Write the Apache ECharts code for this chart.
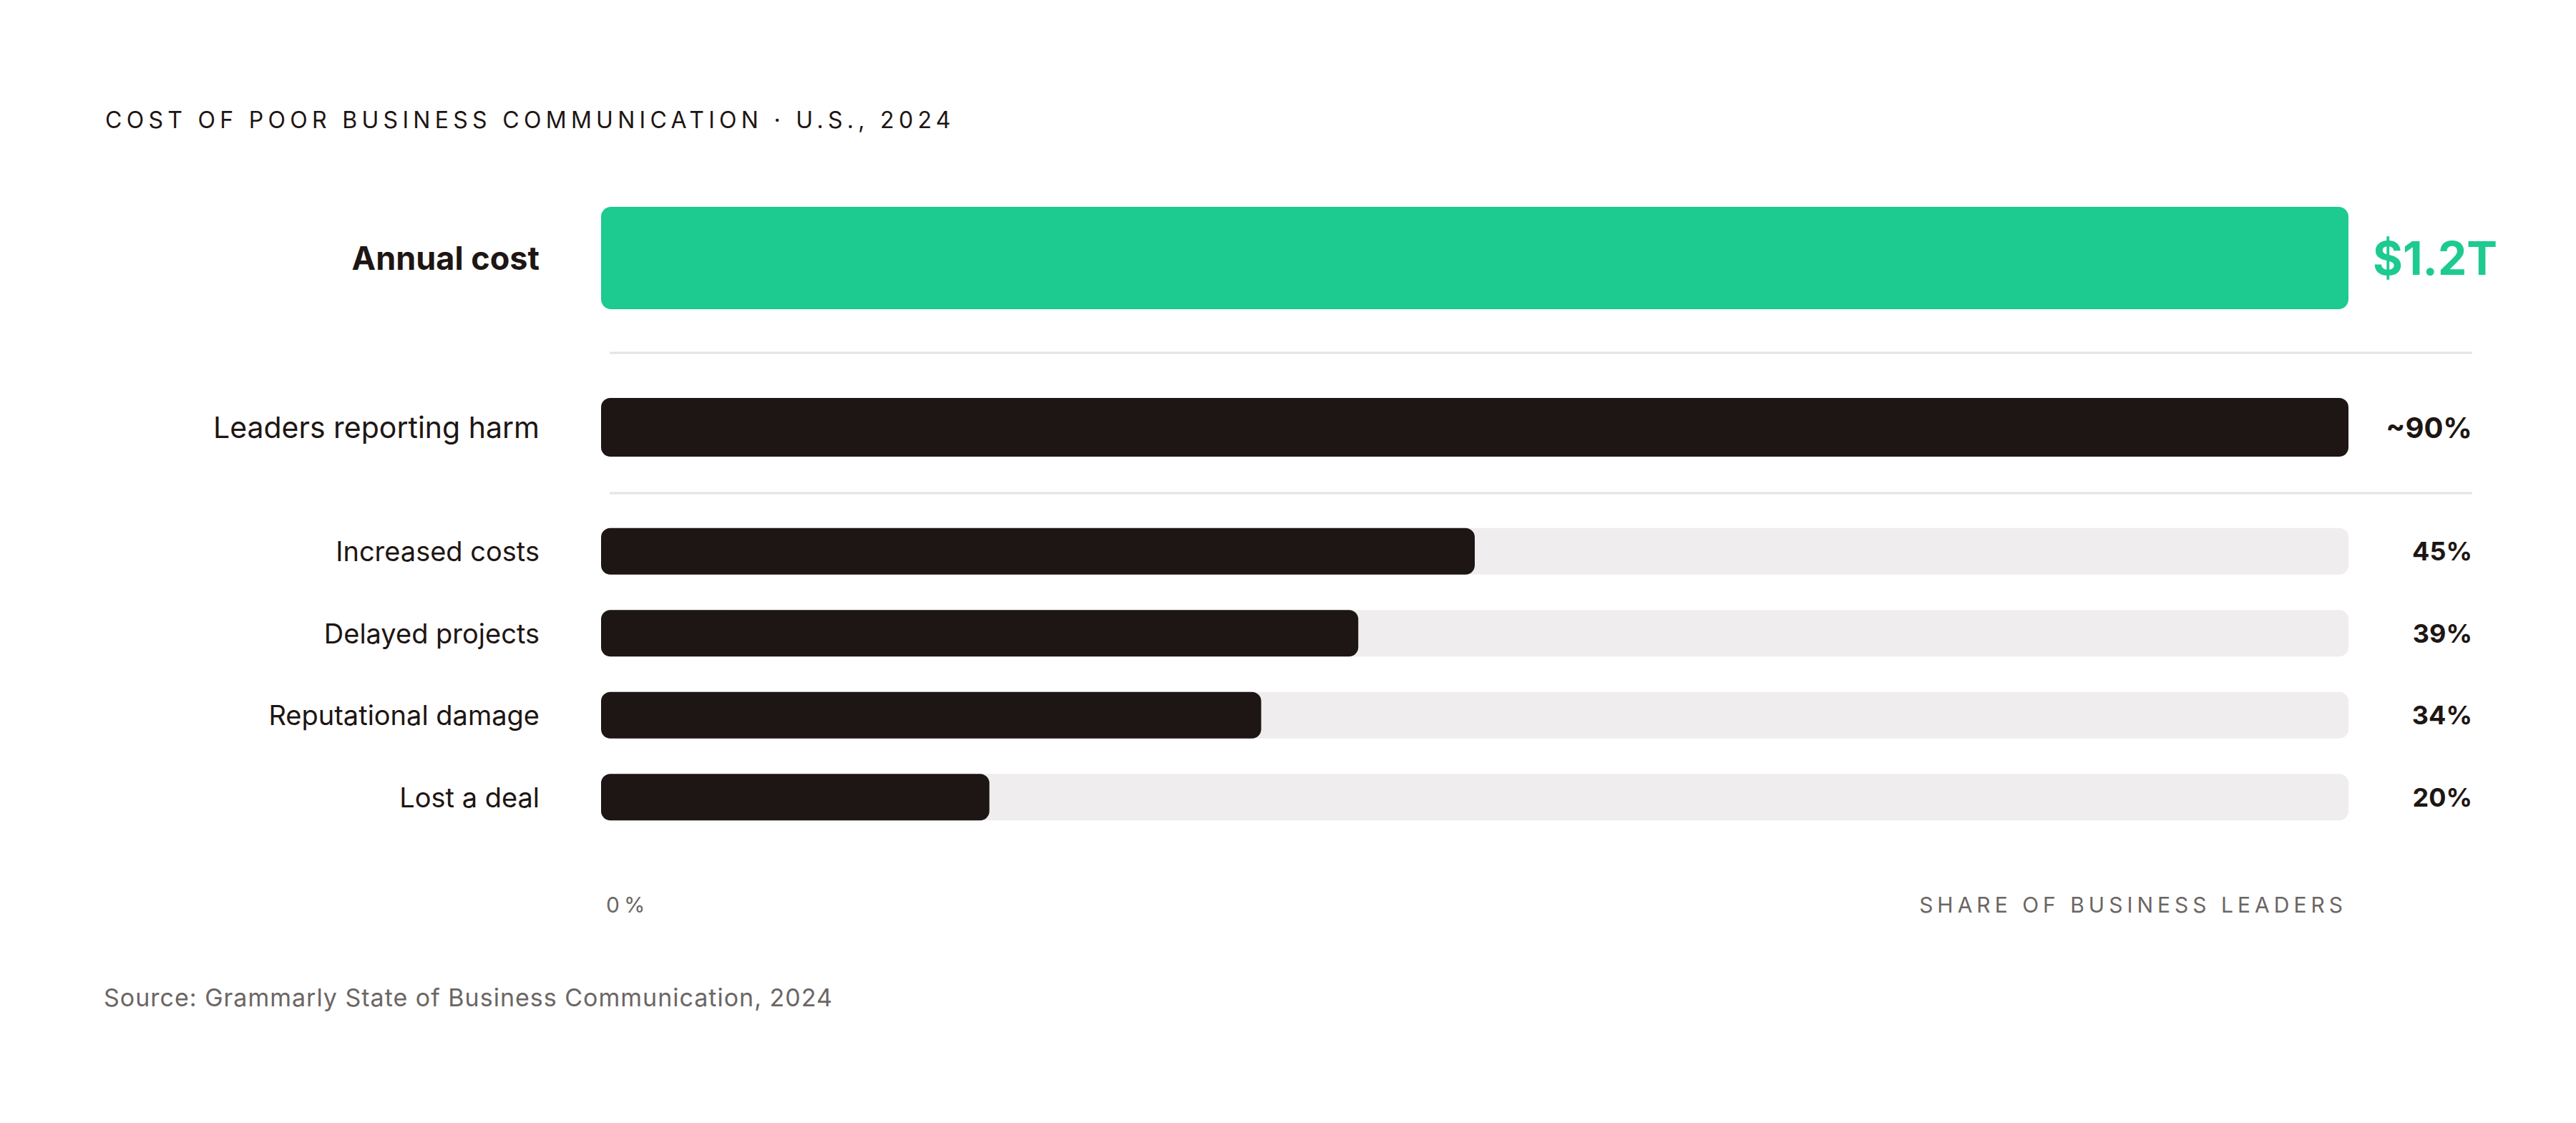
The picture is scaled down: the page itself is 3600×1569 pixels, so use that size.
<!DOCTYPE html>
<html>
<head>
<meta charset="utf-8">
<script src="https://cdn.jsdelivr.net/npm/echarts@6/dist/echarts.min.js"></script>
<style>
    html, body { margin: 0; padding: 0; background: #fff; }
    #chart { width: 3600px; height: 1569px; }
</style>
</head>
<body>
<div id="chart"></div>
<script>
// 数据
const headlineLabels = ['Annual cost']
const headlineValues = [1.2]            // trillion USD
const harmLabels = ['Leaders reporting harm']
const harmValues = [90]                 // approx. share of leaders, %
const impactLabels = ['Increased costs', 'Delayed projects', 'Reputational damage', 'Lost a deal']
const impactValues = [45, 39, 34, 20]
const shareMax = 90
const axisTicks = [0, shareMax]
const axisTickLabels = ['0%', 'SHARE OF BUSINESS LEADERS']

const INK = '#1e1614'
const GREEN = '#1dca8f'
const TRACK = '#efedee'
const MUTED = '#6b6664'
const RULE = '#e6e3e1'
const FONT = 'Inter, "DejaVu Sans", sans-serif'

const titleText = 'COST OF POOR BUSINESS COMMUNICATION · U.S., 2024'
const sourceText = 'Source: Grammarly State of Business Communication, 2024'

// 三个网格共用左右边界
const gridLeft = 840
const gridRight = 318

const chart = echarts.init(document.getElementById('chart'), null, { renderer: 'svg' })

const hiddenAxis = { axisLine: { show: false }, axisTick: { show: false }, splitLine: { show: false } }

chart.setOption({
    animation: false,
    backgroundColor: '#fff',
    textStyle: { fontFamily: FONT },
    title: [
        {
            text: titleText,
            left: 147, top: 151, padding: 0,
            textStyle: { fontSize: 32, fontWeight: 'normal', color: INK, fontFamily: FONT }
        },
        {
            text: sourceText,
            left: 145, top: 1376, padding: 0,
            textStyle: { fontSize: 34, fontWeight: 'normal', color: MUTED, fontFamily: FONT }
        }
    ],
    grid: [
        { left: gridLeft, right: gridRight, top: 289, height: 143 },
        { left: gridLeft, right: gridRight, top: 556, height: 82 },
        { left: gridLeft, right: gridRight, top: 713, height: 458 }
    ],
    xAxis: [
        { gridIndex: 0, type: 'value', min: 0, max: headlineValues[0], show: false },
        { gridIndex: 1, type: 'value', min: 0, max: shareMax, show: false },
        {
            gridIndex: 2, type: 'value', min: 0, max: shareMax,
            ...hiddenAxis,
            axisLabel: {
                customValues: axisTicks,
                formatter: (v) => axisTickLabels[axisTicks.indexOf(v)],
                alignMinLabel: 'left',
                alignMaxLabel: 'right',
                margin: 78,
                padding: [0, 2, 0, 7],
                color: MUTED,
                fontSize: 30,
                fontFamily: FONT
            }
        }
    ],
    yAxis: [
        {
            gridIndex: 0, type: 'category', inverse: true, data: headlineLabels, ...hiddenAxis,
            axisLabel: { margin: 86, color: INK, fontSize: 45, fontWeight: 'bold', fontFamily: FONT }
        },
        {
            gridIndex: 1, type: 'category', inverse: true, data: harmLabels, ...hiddenAxis,
            axisLabel: { margin: 86, color: INK, fontSize: 41, fontFamily: FONT }
        },
        {
            gridIndex: 2, type: 'category', inverse: true, data: impactLabels, ...hiddenAxis,
            axisLabel: { margin: 86, color: INK, fontSize: 38, fontFamily: FONT }
        }
    ],
    series: [
        {
            type: 'bar', xAxisIndex: 0, yAxisIndex: 0,
            data: headlineValues,
            barWidth: 143,
            itemStyle: { color: GREEN, borderRadius: 14 },
            label: {
                show: true, position: 'right', distance: 34,
                formatter: (p) => '$' + p.value + 'T',
                color: GREEN, fontSize: 64, fontWeight: 'bold', fontFamily: FONT
            }
        },
        {
            type: 'bar', xAxisIndex: 1, yAxisIndex: 1,
            data: harmValues,
            barWidth: 82,
            itemStyle: { color: INK, borderRadius: 13 },
            label: {
                show: true, position: 'right', distance: 173, align: 'right',
                formatter: (p) => '~' + p.value + '%',
                color: INK, fontSize: 40, fontWeight: 'bold', fontFamily: FONT
            }
        },
        {
            // 灰色底槽
            type: 'bar', xAxisIndex: 2, yAxisIndex: 2,
            data: impactValues.map(() => shareMax),
            barWidth: 65,
            silent: true,
            itemStyle: { color: TRACK, borderRadius: 13 },
            label: {
                show: true, position: 'right', distance: 173, align: 'right',
                formatter: (p) => impactValues[p.dataIndex] + '%',
                color: INK, fontSize: 36, fontWeight: 'bold', fontFamily: FONT
            }
        },
        {
            type: 'bar', xAxisIndex: 2, yAxisIndex: 2,
            data: impactValues,
            barWidth: 65,
            barGap: '-100%',
            itemStyle: { color: INK, borderRadius: 13 }
        }
    ],
    graphic: [
        { type: 'line', shape: { x1: 852, y1: 493, x2: 3455, y2: 493 }, style: { stroke: RULE, lineWidth: 3 }, silent: true },
        { type: 'line', shape: { x1: 852, y1: 689, x2: 3455, y2: 689 }, style: { stroke: RULE, lineWidth: 3 }, silent: true }
    ]
})

// 字距: 标题、坐标轴文字、来源
function spaceLetters() {
    const spaced = { [titleText]: '6.3px', [sourceText]: '1px' }
    axisTickLabels.forEach((t) => { spaced[t] = '6px' })
    document.querySelectorAll('#chart text').forEach((el) => {
        const s = spaced[el.textContent]
        if (s) el.setAttribute('letter-spacing', s)
    })
}
chart.on('finished', spaceLetters)
spaceLetters()
</script>
</body>
</html>
